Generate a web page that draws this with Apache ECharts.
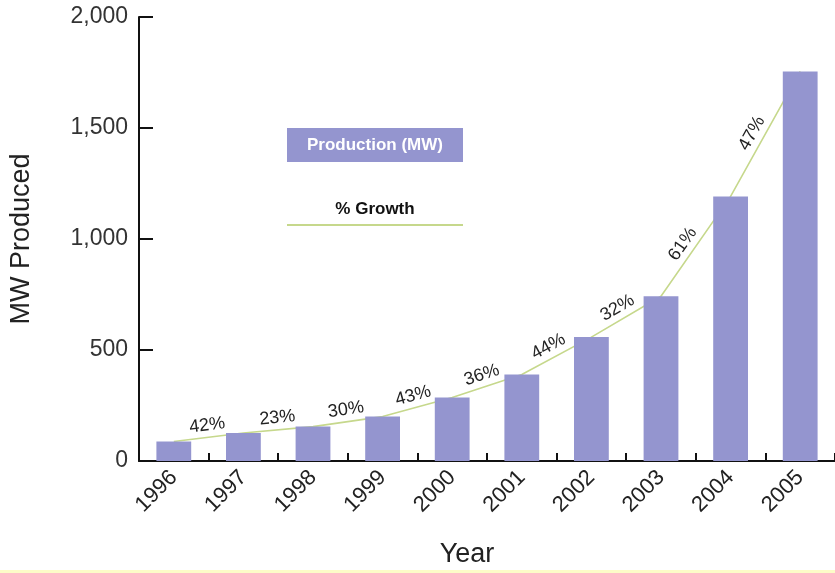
<!DOCTYPE html>
<html>
<head>
<meta charset="utf-8">
<title>MW Produced by Year</title>
<script src="https://cdn.jsdelivr.net/npm/echarts@6/dist/echarts.min.js"></script>
<style>
  html, body { margin: 0; padding: 0; background: #ffffff; }
  #chart { width: 835px; height: 573px; }
</style>
</head>
<body>
<div id="chart"></div>
<script>
// Annual production, in MW
const years = ['1996', '1997', '1998', '1999', '2000', '2001', '2002', '2003', '2004', '2005'];
const production = [88, 126, 155, 200, 286, 390, 558, 742, 1192, 1755];
// Year-over-year growth (%), one value per year from 1997 on
const growth = [42, 23, 30, 43, 36, 44, 32, 61, 47];
// Value axis ticks
const yTicks = [0, 500, 1000, 1500, 2000];

const barColor = '#9495cf';
const lineColor = '#c6d88c';
const fontFamily = '"Liberation Sans", Arial, sans-serif';

// Growth labels sit over the segment between two consecutive years
const growthData = growth.map((g, i) => [i + 1, g]);

const chart = echarts.init(document.getElementById('chart'), null, { renderer: 'canvas' });

chart.setOption({
  animation: false,
  backgroundColor: '#ffffff',
  grid: { left: 139, right: -4, top: 17, bottom: 111, containLabel: false },
  xAxis: {
    type: 'category',
    data: years,
    boundaryGap: true,
    name: 'Year',
    nameLocation: 'middle',
    nameGap: 80,
    nameTextStyle: { fontSize: 27, color: '#222', fontFamily, padding: [0, 40, 0, 0] },
    axisLine: { show: true, lineStyle: { color: '#111', width: 2 } },
    axisTick: { show: true, inside: true, length: 8, alignWithLabel: false, lineStyle: { color: '#111', width: 2 } },
    axisLabel: { rotate: 45, fontSize: 22, color: '#222', fontFamily, margin: 13, interval: 0 },
    splitLine: { show: false }
  },
  yAxis: {
    type: 'value',
    min: yTicks[0],
    max: yTicks[yTicks.length - 1],
    interval: yTicks[1] - yTicks[0],
    name: 'MW Produced',
    nameLocation: 'middle',
    nameRotate: 90,
    nameGap: 104,
    nameTextStyle: { fontSize: 27, color: '#222', fontFamily },
    axisLine: { show: true, lineStyle: { color: '#111', width: 2 } },
    axisTick: { show: true, inside: true, length: 14, lineStyle: { color: '#111', width: 2 } },
    axisLabel: {
      fontSize: 23, color: '#333', fontFamily, margin: 11,
      formatter: v => v.toLocaleString('en-US')
    },
    splitLine: { show: false }
  },
  graphic: [
    // Legend: production swatch with its caption inside
    { type: 'rect', left: 287, top: 128, shape: { width: 176, height: 34 }, style: { fill: barColor }, z: 10 },
    { type: 'text', x: 375, y: 145, style: { text: 'Production (MW)', fill: '#ffffff', font: 'bold 17px ' + fontFamily, align: 'center', verticalAlign: 'middle' }, z: 11 },
    // Legend: growth caption above its line sample
    { type: 'text', x: 375, y: 209, style: { text: '% Growth', fill: '#111', font: 'bold 17px ' + fontFamily, align: 'center', verticalAlign: 'middle' }, z: 11 },
    { type: 'line', shape: { x1: 287, y1: 225, x2: 463, y2: 225 }, style: { stroke: lineColor, lineWidth: 2 }, z: 10 },
    // pale strip along the bottom edge
    { type: 'rect', left: 0, top: 570, shape: { width: 835, height: 3 }, style: { fill: '#fdfcc8' }, z: 0 }
  ],
  series: [
    {
      name: '% Growth',
      type: 'line',
      data: production,
      symbol: 'none',
      lineStyle: { color: lineColor, width: 1.6 },
      z: 1
    },
    {
      name: 'Production (MW)',
      type: 'bar',
      data: production,
      barWidth: '50%',
      itemStyle: { color: barColor },
      z: 3
    },
    {
      name: 'growth labels',
      type: 'custom',
      data: growthData,
      z: 4,
      renderItem: function (params, api) {
        const i = api.value(0);
        const p0 = api.coord([i - 1, production[i - 1]]);
        const p1 = api.coord([i, production[i]]);
        const dx = p1[0] - p0[0];
        const dy = p1[1] - p0[1];
        const len = Math.sqrt(dx * dx + dy * dy);
        const ux = dx / len, uy = dy / len;
        // normal pointing up-left of the segment
        const nx = uy, ny = -ux;
        const perp = 12;
        const along = 1 - 8 * Math.abs(uy);
        const cx = (p0[0] + p1[0]) / 2 + nx * perp + ux * along;
        const cy = (p0[1] + p1[1]) / 2 + ny * perp + uy * along;
        return {
          type: 'text',
          x: cx,
          y: cy,
          rotation: Math.atan2(-dy, dx),
          style: {
            text: api.value(1) + '%',
            fill: '#222',
            font: '18px ' + fontFamily,
            align: 'center',
            verticalAlign: 'middle'
          }
        };
      }
    }
  ]
});
</script>
</body>
</html>
